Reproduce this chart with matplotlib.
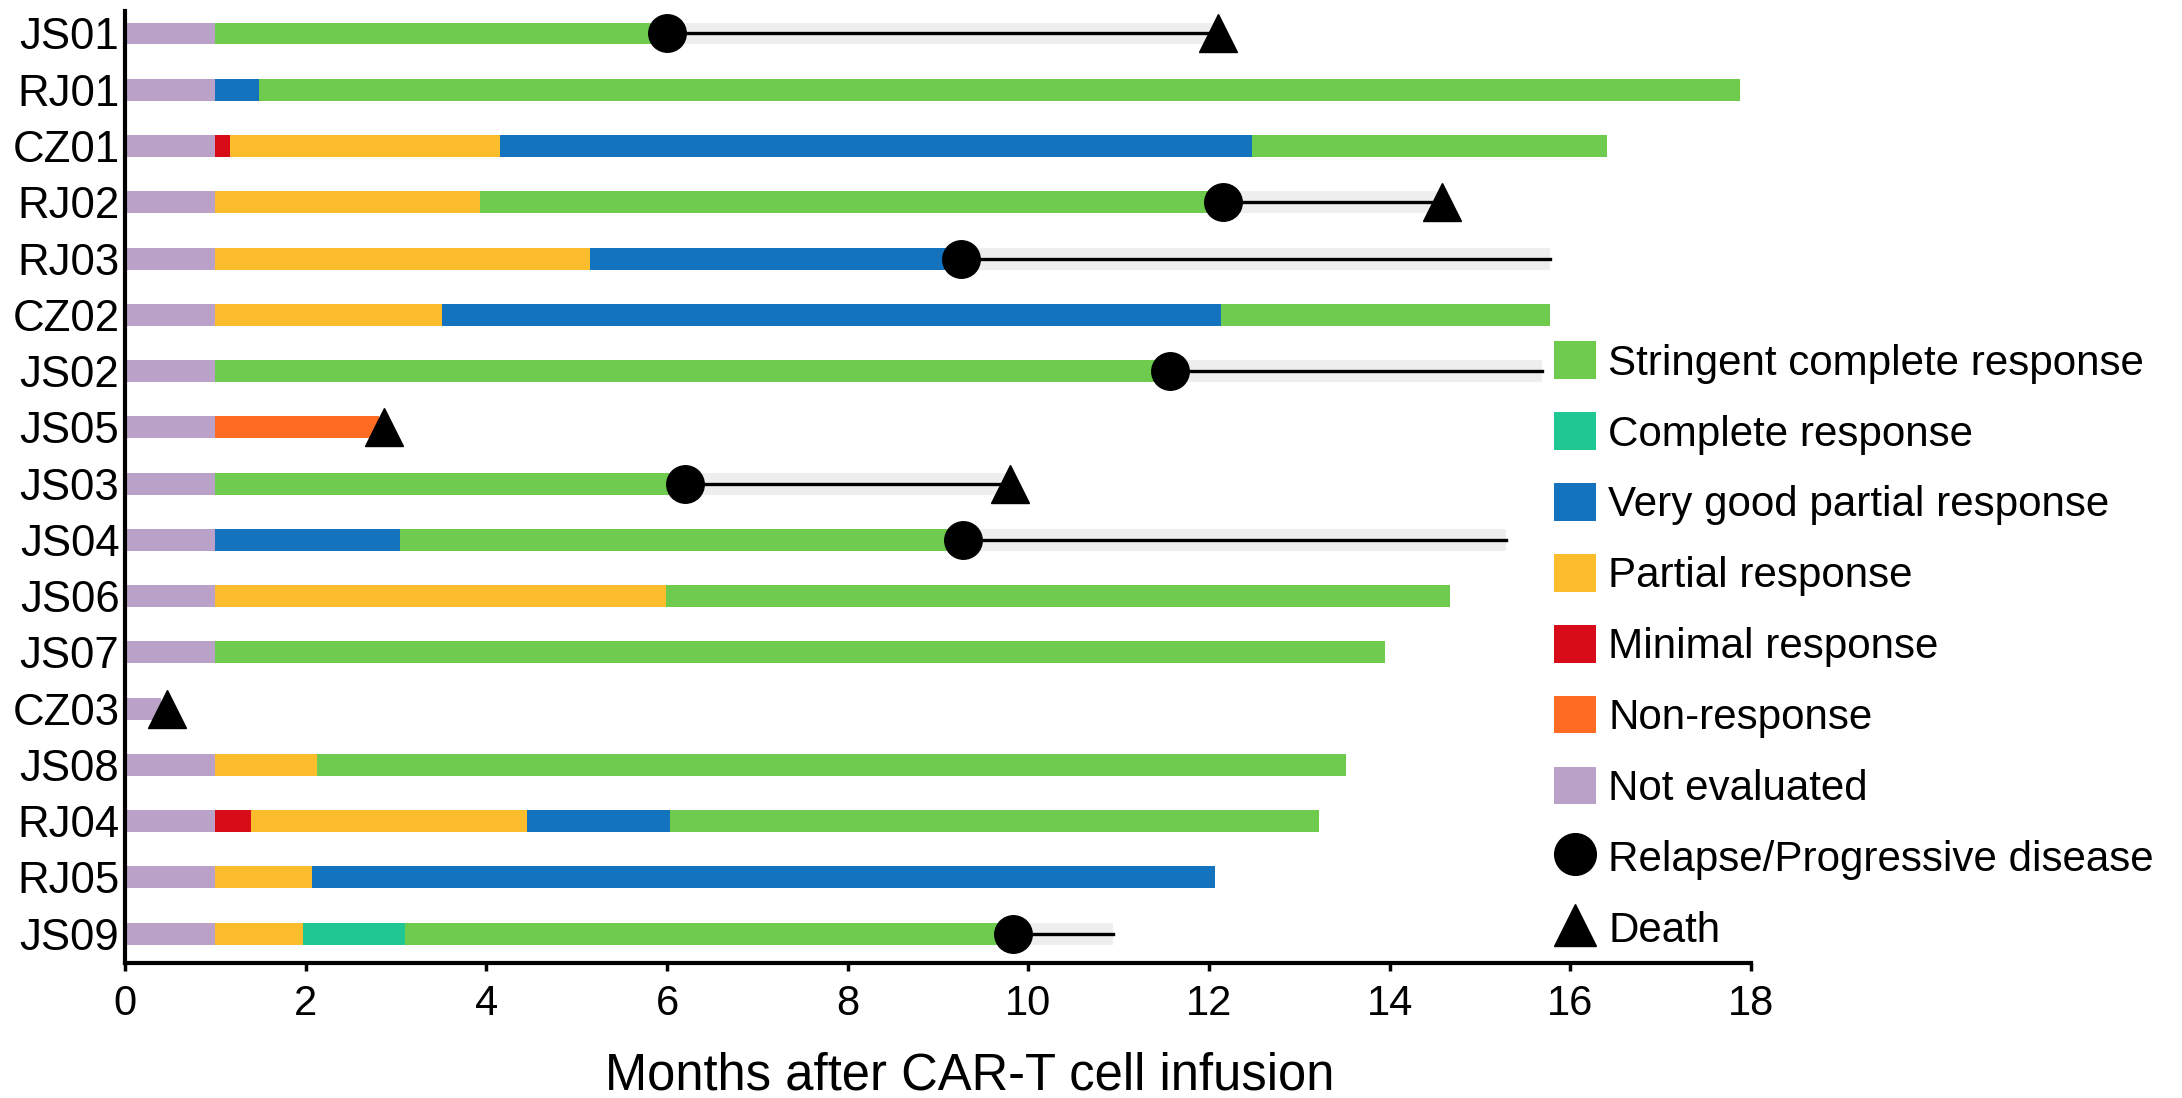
import matplotlib
matplotlib.use("Agg")
import matplotlib.pyplot as plt
from matplotlib.patches import Patch
from matplotlib.lines import Line2D

plt.rcParams['font.family'] = ['Liberation Sans', 'DejaVu Sans']

# patients, top to bottom
patients = ['JS01', 'RJ01', 'CZ01', 'RJ02', 'RJ03', 'CZ02', 'JS02', 'JS05', 'JS03',
            'JS04', 'JS06', 'JS07', 'CZ03', 'JS08', 'RJ04', 'RJ05', 'JS09']

# response category of each segment, and the month where each segment ends
seg_types = [
    ['NE', 'sCR'],
    ['NE', 'VGPR', 'sCR'],
    ['NE', 'MR', 'PR', 'VGPR', 'sCR'],
    ['NE', 'PR', 'sCR'],
    ['NE', 'PR', 'VGPR'],
    ['NE', 'PR', 'VGPR', 'sCR'],
    ['NE', 'sCR'],
    ['NE', 'NR'],
    ['NE', 'sCR'],
    ['NE', 'VGPR', 'sCR'],
    ['NE', 'PR', 'sCR'],
    ['NE', 'sCR'],
    ['NE'],
    ['NE', 'PR', 'sCR'],
    ['NE', 'MR', 'PR', 'VGPR', 'sCR'],
    ['NE', 'PR', 'VGPR'],
    ['NE', 'PR', 'CR', 'sCR'],
]
seg_ends = [
    [1.0, 6.0],
    [1.0, 1.48, 17.88],
    [1.0, 1.16, 4.15, 12.47, 16.41],
    [1.0, 3.93, 12.15],
    [1.0, 5.15, 9.25],
    [1.0, 3.51, 12.13, 15.77],
    [1.0, 11.57],
    [1.0, 2.81],
    [1.0, 6.2],
    [1.0, 3.04, 9.28],
    [1.0, 5.99, 14.67],
    [1.0, 13.95],
    [0.4],
    [1.0, 2.13, 13.52],
    [1.0, 1.40, 4.45, 6.03, 13.22],
    [1.0, 2.07, 12.07],
    [1.0, 1.97, 3.1, 9.83],
]

# relapse / progression time, end of follow-up after relapse, death time (None = not applicable)
relapse = [6.0, None, None, 12.15, 9.25, None, 11.57, None, 6.2, 9.28, None, None, None, None, None, None, 9.83]
followup = [12.1, None, None, 14.58, 15.77, None, 15.69, None, 9.8, 15.29, None, None, None, None, None, None, 10.94]
death = [12.1, None, None, 14.58, None, None, None, 2.87, 9.8, None, None, None, 0.47, None, None, None, None]

categories = ['sCR', 'CR', 'VGPR', 'PR', 'MR', 'NR', 'NE']
cat_labels = ['Stringent complete response', 'Complete response', 'Very good partial response',
              'Partial response', 'Minimal response', 'Non-response', 'Not evaluated']
cat_colors = ['#6fcb4e', '#1fc893', '#1473bf', '#fbbd2c', '#d80c18', '#fd6c22', '#b9a1c8']
color_of = dict(zip(categories, cat_colors))

fig = plt.figure(figsize=(21.82, 10.98), dpi=100)
ax = fig.add_axes([0.0573, 0.123, 0.7452, 0.867])

bar_h = 0.39
for i, name in enumerate(patients):
    start = 0.0
    for cat, end in zip(seg_types[i], seg_ends[i]):
        ax.barh(i, end - start, left=start, height=bar_h, color=color_of[cat], zorder=2)
        start = end
    if relapse[i] is not None:
        ax.barh(i, followup[i] - relapse[i], left=relapse[i], height=bar_h,
                color='#eeeeee', zorder=1)
        ax.plot([relapse[i], followup[i]], [i, i], color='black', lw=2.4, zorder=3)
        ax.plot(relapse[i], i, marker='o', color='black', markersize=27, zorder=4)
    if death[i] is not None:
        ax.plot(death[i], i, marker='^', color='black', markersize=28, zorder=5)

ax.set_xlim(0, 18)
ax.set_ylim(16.52, -0.40)
ax.set_xticks(range(0, 19, 2))
ax.set_yticks(range(len(patients)))
ax.set_yticklabels(patients)
ax.tick_params(axis='x', length=6, width=2.5, labelsize=30, pad=9)
ax.tick_params(axis='y', length=0, labelsize=31.5, pad=4)
for s in ['top', 'right']:
    ax.spines[s].set_visible(False)
for s in ['left', 'bottom']:
    ax.spines[s].set_linewidth(3)

fig.text(0.4445, 0.02, 'Months after CAR-T cell infusion', fontsize=36.5, ha='center', va='center')

handles = [Patch(facecolor=c, edgecolor='none') for c in cat_colors]
handles.append(Line2D([], [], ls='none', marker='o', color='black', markersize=30))
handles.append(Line2D([], [], ls='none', marker='^', color='black', markersize=30))
labels = cat_labels + ['Relapse/Progressive disease', 'Death']
fig.legend(handles, labels, loc='upper left', bbox_to_anchor=(0.712, 0.689),
           frameon=False, fontsize=30.3, handlelength=1.0, handleheight=1.0,
           handletextpad=0.3, labelspacing=0.68, borderpad=0, borderaxespad=0)

fig.savefig('out.png', dpi=100)
